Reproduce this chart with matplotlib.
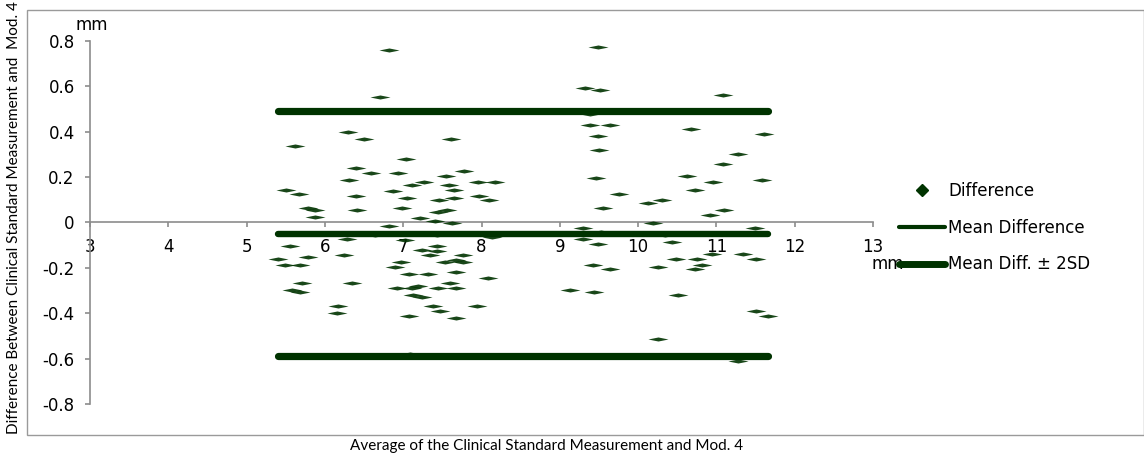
import matplotlib
matplotlib.use("Agg")
import matplotlib.pyplot as plt
from matplotlib.path import Path
from matplotlib.lines import Line2D
from matplotlib.patches import Rectangle

# ---- data ----
avg_mm = [
    6.82, 6.70, 6.30, 6.50, 7.61, 5.62, 7.03, 6.40, 6.59, 6.93,
    7.55, 7.78, 6.31, 7.11, 7.26, 7.59, 7.96, 8.17, 5.50, 5.67,
    6.40, 6.87, 7.65, 7.05, 7.46, 7.65, 7.97, 8.10, 5.79, 5.87,
    6.41, 6.99, 7.56, 5.87, 7.44, 7.22, 7.41, 7.62, 6.82,
    6.28, 6.64, 7.43, 8.13, 7.02, 5.55, 7.24, 7.43, 7.43, 5.79,
    6.24, 7.34, 5.40, 5.68, 5.49, 6.97, 6.90, 7.53, 7.76, 7.77,
    7.68, 7.07, 7.32, 7.68, 8.08, 5.71, 6.35, 5.58, 5.68, 6.92,
    7.11, 7.19, 7.45, 7.60, 7.68, 7.13, 7.24, 6.17, 6.15, 7.38,
    7.47, 7.94, 7.08, 7.68, 7.09,
    9.49, 9.32, 9.51, 11.08, 9.39, 9.38, 9.64, 9.49, 10.67, 11.61,
    9.50, 11.28, 11.08, 9.46, 10.62, 10.96, 11.58, 9.75, 10.73, 10.13,
    10.31, 9.55, 11.10, 10.92, 10.19,
    9.30, 9.53, 9.30, 9.49, 10.34, 10.43, 11.49, 10.94, 11.34, 10.49,
    10.75, 11.51, 9.43, 9.64, 10.26, 10.82, 10.73, 9.13, 9.44, 10.51,
    11.51, 11.66, 10.26, 11.28,
]
diff_mm = [
    0.762, 0.551, 0.400, 0.369, 0.369, 0.338, 0.279, 0.239, 0.219, 0.219,
    0.207, 0.228, 0.188, 0.167, 0.178, 0.167, 0.178, 0.178, 0.145, 0.126,
    0.116, 0.138, 0.145, 0.107, 0.097, 0.107, 0.116, 0.097, 0.065, 0.054,
    0.054, 0.065, 0.054, 0.023, 0.045, 0.018, 0.006, -0.004, -0.016,
    -0.072, -0.054, -0.057, -0.065, -0.079, -0.104, -0.123, -0.104, -0.126, -0.153,
    -0.145, -0.145, -0.163, -0.186, -0.186, -0.175, -0.197, -0.175, -0.145, -0.172,
    -0.164, -0.229, -0.229, -0.219, -0.245, -0.266, -0.266, -0.297, -0.307, -0.288,
    -0.288, -0.278, -0.288, -0.266, -0.288, -0.319, -0.329, -0.367, -0.400, -0.367,
    -0.389, -0.367, -0.410, -0.420, -0.578,
    0.775, 0.592, 0.583, 0.561, 0.480, 0.429, 0.429, 0.380, 0.410, 0.391,
    0.319, 0.300, 0.259, 0.198, 0.207, 0.178, 0.188, 0.126, 0.145, 0.087,
    0.097, 0.065, 0.054, 0.035, -0.003,
    -0.025, -0.043, -0.072, -0.094, -0.054, -0.084, -0.025, -0.138, -0.138, -0.163,
    -0.163, -0.163, -0.186, -0.207, -0.197, -0.186, -0.207, -0.297, -0.308, -0.319,
    -0.389, -0.410, -0.512, -0.612,
]
mean_difference = -0.05
two_sd = 0.54

x_ticks = [3, 4, 5, 6, 7, 8, 9, 10, 11, 12, 13]
y_ticks = [-0.8, -0.6, -0.4, -0.2, 0, 0.2, 0.4, 0.6, 0.8]
y_tick_labels = ["-0.8", "-0.6", "-0.4", "-0.2", "0", "0.2", "0.4", "0.6", "0.8"]
legend_labels = ["Difference", "Mean Difference", "Mean Diff. \u00b1 2SD"]
x_title = "Average of the Clinical Standard Measurement and Mod. 4"
y_title = "Difference Between Clinical Standard Measurement and  Mod. 4"

# ---- style ----
GREEN = "#003300"
GREY = "#8c8c8c"
TICK_FONT = "DejaVu Sans"
TICK_SIZE = 12
TITLE_FONT = "Lato"
W, H = 1144, 455

fig = plt.figure(figsize=(W / 100, H / 100), dpi=100)
ax = fig.add_axes([90 / W, 1 - 404 / H, (873 - 90) / W, (404 - 41) / H])

# outer frame
fig.patches.append(Rectangle((27 / W, 1 - 435 / H), (1143.5 - 27) / W, (435 - 10) / H,
                             transform=fig.transFigure, fill=False,
                             edgecolor="#9a9a9a", linewidth=1.0))

# flat diamond marker
flat_diamond = Path([(-1, 0), (0, 0.2), (1, 0), (0, -0.2), (-1, 0)],
                    [Path.MOVETO, Path.LINETO, Path.LINETO, Path.LINETO, Path.CLOSEPOLY])

x_lo, x_hi = min(avg_mm), max(avg_mm)
for level, lw in [(mean_difference + two_sd, 5.2), (mean_difference - two_sd, 5.2),
                  (mean_difference, 4.6)]:
    ax.plot([x_lo, x_hi], [level, level], color=GREEN, lw=lw,
            solid_capstyle="round", zorder=2)

ax.plot(avg_mm, diff_mm, linestyle="none", marker=flat_diamond, markersize=14.5,
        markerfacecolor=GREEN, markeredgecolor="none", alpha=0.9, zorder=3)

ax.set_xlim(3, 13)
ax.set_ylim(-0.8, 0.8)
ax.set_xticks(x_ticks)
ax.set_yticks(y_ticks)
ax.set_yticklabels(y_tick_labels)

for s in ["top", "right"]:
    ax.spines[s].set_visible(False)
ax.spines["bottom"].set_position(("data", 0))
for s in ["left", "bottom"]:
    ax.spines[s].set_color(GREY)
    ax.spines[s].set_linewidth(1.2)
ax.tick_params(axis="both", colors=GREY, labelcolor="black", length=3.5, width=1.2,
               labelsize=TICK_SIZE)
ax.tick_params(axis="x", direction="out", pad=7.5)
ax.tick_params(axis="y", direction="out", pad=7.5)
for lab in ax.get_xticklabels() + ax.get_yticklabels():
    lab.set_fontfamily(TICK_FONT)

# unit labels
fig.text(92 / W, 1 - 25 / H, "mm", ha="center", va="center",
         fontsize=TICK_SIZE, family=TICK_FONT)
fig.text(872 / W, 1 - 264 / H, "mm", ha="left", va="center",
         fontsize=TICK_SIZE, family=TICK_FONT)

# axis titles
fig.text(547 / W, 1 - 446 / H, x_title, ha="center", va="center",
         fontsize=11, family=TITLE_FONT)
fig.text(14 / W, 1 - 218 / H, y_title, ha="center", va="center", rotation=90,
         fontsize=11, family=TITLE_FONT)

# legend
handles = [
    Line2D([], [], linestyle="none", marker="D", markersize=6,
           markerfacecolor=GREEN, markeredgecolor=GREEN),
    Line2D([], [], color=GREEN, lw=3.0, solid_capstyle="round"),
    Line2D([], [], color=GREEN, lw=5.0, solid_capstyle="round"),
]
leg = fig.legend(handles, legend_labels, loc="upper left",
                 bbox_to_anchor=(899 / W, 1 - 182 / H), frameon=False,
                 borderpad=0, borderaxespad=0, handlelength=2.75, handletextpad=0.2,
                 labelspacing=1.12, prop={"family": TICK_FONT, "size": TICK_SIZE})

fig.savefig("out.png", dpi=100)
